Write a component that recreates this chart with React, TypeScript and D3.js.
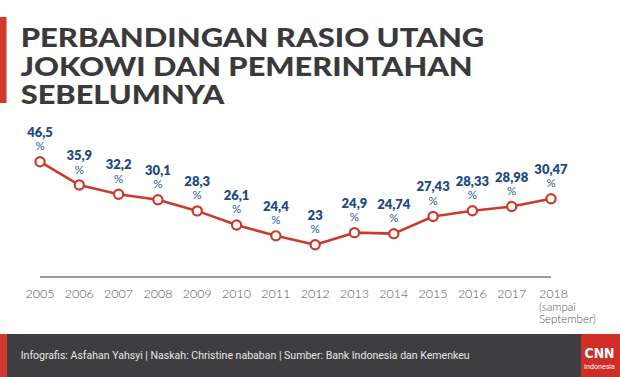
import React from "react";
import * as d3 from "d3";

const years = ["2005","2006","2007","2008","2009","2010","2011","2012","2013","2014","2015","2016","2017","2018"];
const ratios = [46.5, 35.9, 32.2, 30.1, 28.3, 26.1, 24.4, 23, 24.9, 24.74, 27.43, 28.33, 28.98, 30.47];
const lastYearNote = ["(sampai", "September)"];
const titleLines = ["PERBANDINGAN RASIO UTANG", "JOKOWI DAN PEMERINTAHAN", "SEBELUMNYA"];
const footerText = "Infografis: Asfahan Yahsyi | Naskah: Christine nababan | Sumber: Bank Indonesia dan Kemenkeu";

const W = 620;
const H = 377;
const RED = "#c93c2c";
const BLUE = "#1d4b82";

export default function App() {
  const x = d3.scalePoint<string>().domain(years).range([40, 551]);
  // the infographic's vertical axis is not uniform; a piecewise-linear scale follows it
  const y = d3.scaleLinear().domain([20, 25, 30, 35, 50]).range([264, 232, 200, 187, 154]);
  const pts = years.map((yr, i) => ({ yr, v: ratios[i], px: x(yr) as number, py: y(ratios[i]) }));
  const line = d3.line<{ px: number; py: number }>().x((d) => d.px).y((d) => d.py);
  const fmt = (v: number) => String(v).replace(".", ",");
  const titleWidths = [463.6, 452, 203.6];
  const titleBase = [47.3, 75.8, 104.3];

  return (
    <svg width={W} height={H} style={{ position: "absolute", left: 0, top: 0, background: "#fff" }}>
      <rect x={0} y={0} width={W} height={H} fill="#fff" />
      {/* title */}
      <rect x={0} y={17} width={6.5} height={86} fill="#d0392b" />
      {titleLines.map((t, i) => (
        <text key={t} x={20.7} y={titleBase[i]} fontFamily="Lato, sans-serif" fontWeight={900}
          fontSize={26.5} fill="#3a3a3a" textLength={titleWidths[i]} lengthAdjust="spacingAndGlyphs">{t}</text>
      ))}
      {/* baseline */}
      <line x1={x(years[0])} x2={x(years[years.length - 1])} y1={277} y2={277} stroke="#3a3a3a" strokeWidth={1.2} />
      {/* line */}
      <path d={line(pts) || ""} fill="none" stroke={RED} strokeWidth={2.6} strokeLinejoin="round" />
      {pts.map((p) => (
        <circle key={p.yr} cx={p.px} cy={p.py} r={4.6} fill="#fff" stroke={RED} strokeWidth={2.2} />
      ))}
      {/* labels */}
      {pts.map((p) => (
        <g key={"l" + p.yr}>
          <text x={p.px} y={p.py - 25} textAnchor="middle" fontFamily="Lato, sans-serif" fontWeight={800}
            fontSize={13} fill={BLUE}>{fmt(p.v)}</text>
          <text x={p.px} y={p.py - 11.5} textAnchor="middle" fontFamily="Lato, sans-serif" fontWeight={400}
            fontSize={11.5} fill="#2c5a92">%</text>
        </g>
      ))}
      {/* year labels */}
      {pts.map((p, i) =>
        i === pts.length - 1 ? (
          <g key={"y" + p.yr}>
            <text x={p.px - 12} y={298} fontFamily="Lato, sans-serif" fontWeight={300}
              fontSize={12.5} fill="#555">{p.yr}</text>
            {lastYearNote.map((n, j) => (
              <text key={n} x={p.px - 12} y={310.5 + j * 12} fontFamily="Lato, sans-serif" fontWeight={300}
                fontSize={11.5} fill="#555">{n}</text>
            ))}
          </g>
        ) : (
          <text key={"y" + p.yr} x={p.px} y={298} textAnchor="middle" fontFamily="Lato, sans-serif"
            fontWeight={300} fontSize={12.5} fill="#555">{p.yr}</text>
        )
      )}
      {/* footer */}
      <rect x={0} y={334} width={W} height={43} fill="#3e3e40" />
      <rect x={0} y={334} width={7} height={43} fill="#d0392b" />
      <text x={20.7} y={359} fontFamily="Roboto, sans-serif" fontSize={11} fill="#e6e6e6"
        textLength={449} lengthAdjust="spacingAndGlyphs">{footerText}</text>
      <rect x={581} y={334} width={39} height={43} fill="#cf2d25" />
      <text x={599.5} y={358} textAnchor="middle" fontFamily="'DejaVu Sans', sans-serif" fontWeight={700}
        fontSize={14} fill="#fff" textLength={30} lengthAdjust="spacingAndGlyphs">CNN</text>
      <text x={599.5} y={369} textAnchor="middle" fontFamily="Roboto, sans-serif" fontSize={7} fill="#fff"
        textLength={31} lengthAdjust="spacingAndGlyphs">Indonesia</text>
    </svg>
  );
}
